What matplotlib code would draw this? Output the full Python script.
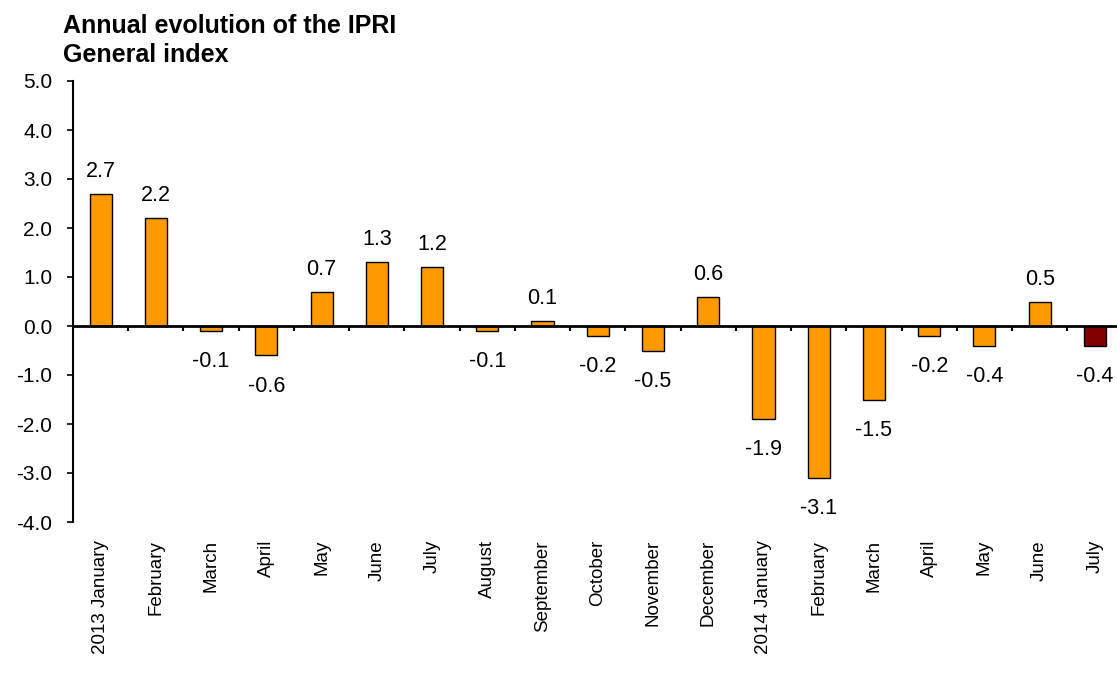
import numpy as np
import matplotlib.pyplot as plt

plt.rcParams['font.family'] = ['Liberation Sans', 'DejaVu Sans']

# Months shown on the x axis
months = ["2013 January", "February", "March", "April", "May", "June", "July",
          "August", "September", "October", "November", "December",
          "2014 January", "February", "March", "April", "May", "June", "July"]
# Annual change of the IPRI general index (%)
values = [2.7, 2.2, -0.1, -0.6, 0.7, 1.3, 1.2, -0.1, 0.1, -0.2, -0.5, 0.6,
          -1.9, -3.1, -1.5, -0.2, -0.4, 0.5, -0.4]

orange = '#FF9900'
dark_red = '#800000'
colors = [orange] * (len(values) - 1) + [dark_red]

fig = plt.figure(figsize=(11.17, 6.78), dpi=100)
ax = fig.add_axes([73/1117, 1 - 522/678, 1 - 73/1117, (522 - 81)/678])

x = np.arange(len(values))
bars = ax.bar(x, values, width=0.4, color=colors, edgecolor='black', linewidth=1.0, zorder=2)

ax.set_xlim(-0.5, 18.4)
ax.set_ylim(-4.0, 5.0)
yt = np.arange(-4, 5.1, 1.0)
ax.set_yticks(yt)
ax.set_yticklabels([f"{v:.1f}" for v in yt], fontsize=15)
ax.tick_params(axis='y', direction='out', length=4, width=1.2, pad=11)

ax.set_xticks(x)
ax.set_xticklabels(months, rotation=90, fontsize=13.5, va='top')
ax.tick_params(axis='x', length=0, pad=13)

for side in ['top', 'right', 'bottom']:
    ax.spines[side].set_visible(False)
ax.spines['left'].set_linewidth(1.5)

# zero line with small ticks between categories
ax.axhline(0, color='black', linewidth=2, zorder=3)
ax.vlines(x[:-1] + 0.5, -0.11, 0, color='black', linewidth=1.5, zorder=3)

for xi, v in zip(x, values):
    if v >= 0:
        ax.annotate(f"{v:.1f}", (xi, v), xytext=(0, 8.5), textcoords='offset points',
                    ha='center', va='bottom', fontsize=15.5)
    else:
        ax.annotate(f"{v:.1f}", (xi, v), xytext=(0, -14.5), textcoords='offset points',
                    ha='center', va='top', fontsize=15.5)

fig.text(63/1117, 1 - 33/678, "Annual evolution of the IPRI", fontsize=18,
         fontweight='bold', va='baseline', ha='left')
fig.text(63/1117, 1 - 62/678, "General index", fontsize=18,
         fontweight='bold', va='baseline', ha='left')

fig.savefig('out.png', dpi=100)
